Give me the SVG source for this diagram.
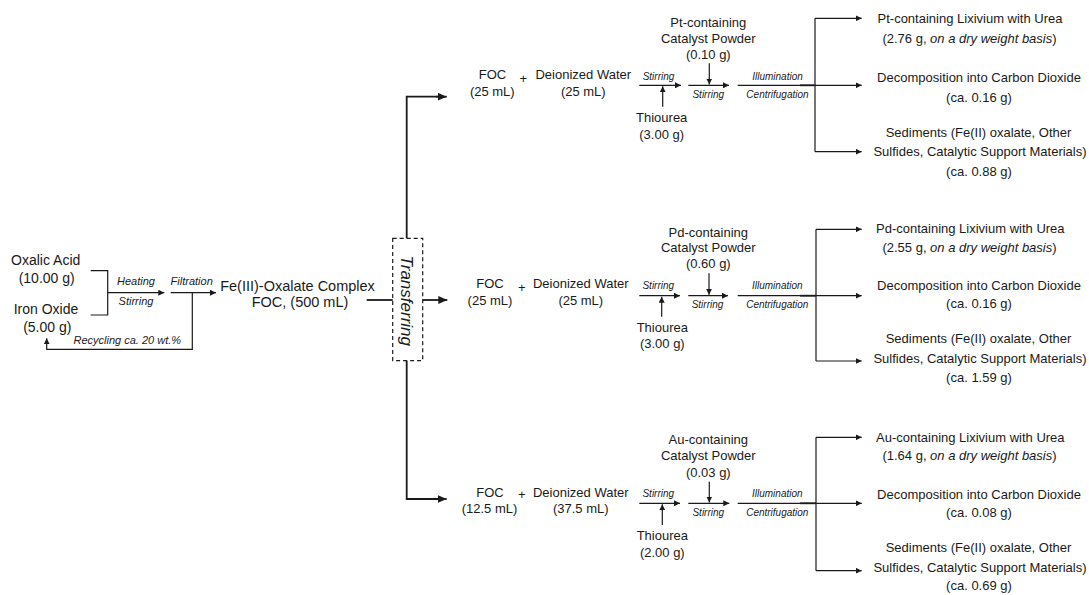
<svg xmlns="http://www.w3.org/2000/svg" width="1089" height="595" viewBox="0 0 1089 595">
<defs>
<marker id="ah" markerUnits="userSpaceOnUse" markerWidth="7" markerHeight="6" refX="6" refY="3" orient="auto">
<path d="M0,0 L6,3 L0,6 z" fill="#1a1a1a"/>
</marker>
<marker id="ahb" markerUnits="userSpaceOnUse" markerWidth="10" markerHeight="8" refX="9" refY="4" orient="auto">
<path d="M0,0 L9,4 L0,8 z" fill="#1a1a1a"/>
</marker>
<style>
text{font-family:"Liberation Sans",Arial,sans-serif;fill:#1a1a1a;text-anchor:middle}
.m{font-size:13px}
.l{font-size:14px}
.f{font-size:14.5px}
.s{font-size:10px;font-style:italic}
.sl{font-size:11px;font-style:italic}
.i{font-style:italic}
.tr{font-size:17px;font-style:italic}
.c{fill:none;stroke:#1a1a1a;stroke-width:1.2}
.a{fill:none;stroke:#1a1a1a;stroke-width:1.2;marker-end:url(#ah)}
.t{fill:none;stroke:#1a1a1a;stroke-width:1.8}
.ta{fill:none;stroke:#1a1a1a;stroke-width:1.8;marker-end:url(#ahb)}
.box{fill:none;stroke:#1a1a1a;stroke-width:1.2;stroke-dasharray:4 3}
</style>
</defs>
<g id="connectors">
<path class="c" d="M90.7,270.7 H107.7 V315 H90.7"/>
<path class="a" d="M107.7,292.7 H164.3"/>
<path class="a" d="M170.7,292.7 H216"/>
<path class="a" d="M192.3,292.7 V349.3 H46.7 V338.3"/>
<path class="t" d="M366.7,300 H392.7"/>
<path class="t" d="M406.7,238.3 V96.7 H438"/><path class="ta" d="M436,96.7 H446.7"/>
<path class="t" d="M406.7,360.7 V499 H438"/><path class="ta" d="M436,499 H446.7"/>
<path class="ta" d="M422.7,300 H447.3"/>
<!-- top row -->
<path class="a" d="M639.3,85.3 H681"/>
<path class="a" d="M662.7,106.7 V86.3"/>
<path class="a" d="M688.3,85.3 H729"/>
<path class="a" d="M709.3,63.3 V84.5"/>
<path class="a" d="M737.7,85.3 H861.7"/>
<path class="t" d="M800,85.3 H815"/>
<path class="c" d="M815,18.3 V151.7"/>
<path class="a" d="M815,18.3 H861.7"/>
<path class="a" d="M815,151.7 H861.7"/>
<!-- middle row -->
<path class="a" d="M639.3,295.7 H680"/>
<path class="a" d="M661.7,316.7 V296.7"/>
<path class="a" d="M688.3,295.7 H728"/>
<path class="a" d="M709,273.3 V294.8"/>
<path class="a" d="M737.7,295.7 H861.7"/>
<path class="t" d="M800,295.7 H816"/>
<path class="c" d="M816,229.3 V361"/>
<path class="a" d="M816,229.3 H861.7"/>
<path class="a" d="M816,361 H861.7"/>
<!-- bottom row -->
<path class="a" d="M639.3,503.3 H680"/>
<path class="a" d="M662.3,525 V504.3"/>
<path class="a" d="M688.3,503.3 H729.3"/>
<path class="a" d="M709.3,481.7 V502.5"/>
<path class="a" d="M737.7,503.3 H861.7"/>
<path class="t" d="M800,503.3 H816"/>
<path class="c" d="M816,437.3 V570.7"/>
<path class="a" d="M816,437.3 H861.7"/>
<path class="a" d="M816,570.7 H861.7"/>
</g>
<g id="labels">
<text class="sl" x="136" y="285">Heating</text>
<text class="sl" x="136" y="305">Stirring</text>
<text class="sl" x="191.7" y="285">Filtration</text>
<text class="sl" x="127.3" y="344">Recycling ca. 20 wt.%</text>
<text class="s" x="658.5" y="80">Stirring</text>
<text class="s" x="708.3" y="98.3">Stirring</text>
<text class="s" x="777.5" y="80">Illumination</text>
<text class="s" x="777.5" y="98.3">Centrifugation</text>
<text class="s" x="658.3" y="289.3">Stirring</text>
<text class="s" x="707.5" y="307.7">Stirring</text>
<text class="s" x="777.3" y="289.3">Illumination</text>
<text class="s" x="777.3" y="307.7">Centrifugation</text>
<text class="s" x="658.3" y="497.3">Stirring</text>
<text class="s" x="708.3" y="516">Stirring</text>
<text class="s" x="777.3" y="497.3">Illumination</text>
<text class="s" x="777.3" y="516">Centrifugation</text>
</g>
<g id="oxalic-acid"><text class="l" x="45.7" y="265">Oxalic Acid</text><text class="l" x="46.7" y="282.7">(10.00 g)</text></g>
<g id="iron-oxide"><text class="l" x="46" y="314.3">Iron Oxide</text><text class="l" x="47.3" y="331.7">(5.00 g)</text></g>
<g id="foc-complex"><text class="f" x="297.5" y="290.7">Fe(III)-Oxalate Complex</text><text class="f" x="300" y="306.7">FOC, (500 mL)</text></g>
<g id="transferring"><rect class="box" x="392.7" y="238.3" width="30" height="122.4"/><text class="tr" transform="translate(400.7,300.8) rotate(90)">Transferring</text></g>
<!-- top row nodes -->
<g id="foc-1"><text class="m" x="492.5" y="79.3">FOC</text><text class="m" x="492.3" y="95.7">(25 mL)</text><text class="m" x="523.3" y="82.6">+</text></g>
<g id="water-1"><text class="m" x="583.3" y="79.3">Deionized Water</text><text class="m" x="583.3" y="95.7">(25 mL)</text></g>
<g id="thiourea-1"><text class="m" x="661.7" y="121.7">Thiourea</text><text class="m" x="661.7" y="139">(3.00 g)</text></g>
<g id="catalyst-pt"><text class="m" x="708.3" y="27.3">Pt-containing</text><text class="m" x="708.3" y="42.8">Catalyst Powder</text><text class="m" x="708.3" y="59">(0.10 g)</text></g>
<g id="lixivium-pt"><text class="m" x="970" y="22.7">Pt-containing Lixivium with Urea</text><text class="m" x="969.5" y="43">(2.76 g, <tspan class="i">on a dry weight basis</tspan>)</text></g>
<g id="co2-1"><text class="m" x="979" y="81.7">Decomposition into Carbon Dioxide</text><text class="m" x="979" y="101.7">(ca. 0.16 g)</text></g>
<g id="sediments-1"><text class="m" x="978.5" y="136.7">Sediments (Fe(II) oxalate, Other</text><text class="m" x="980" y="155.7">Sulfides, Catalytic Support Materials)</text><text class="m" x="979" y="176">(ca. 0.88 g)</text></g>
<!-- middle row nodes -->
<g id="foc-2"><text class="m" x="490" y="288.3">FOC</text><text class="m" x="490" y="305">(25 mL)</text><text class="m" x="521.7" y="291.6">+</text></g>
<g id="water-2"><text class="m" x="580.8" y="288.3">Deionized Water</text><text class="m" x="580.8" y="305">(25 mL)</text></g>
<g id="thiourea-2"><text class="m" x="662.3" y="331.5">Thiourea</text><text class="m" x="662.3" y="348">(3.00 g)</text></g>
<g id="catalyst-pd"><text class="m" x="708.3" y="236.7">Pd-containing</text><text class="m" x="708.3" y="252.3">Catalyst Powder</text><text class="m" x="708.3" y="268.3">(0.60 g)</text></g>
<g id="lixivium-pd"><text class="m" x="970.3" y="233.3">Pd-containing Lixivium with Urea</text><text class="m" x="969.5" y="251.7">(2.55 g, <tspan class="i">on a dry weight basis</tspan>)</text></g>
<g id="co2-2"><text class="m" x="979" y="290">Decomposition into Carbon Dioxide</text><text class="m" x="979" y="308.3">(ca. 0.16 g)</text></g>
<g id="sediments-2"><text class="m" x="978.5" y="343.3">Sediments (Fe(II) oxalate, Other</text><text class="m" x="980" y="363.3">Sulfides, Catalytic Support Materials)</text><text class="m" x="979" y="381.7">(ca. 1.59 g)</text></g>
<!-- bottom row nodes -->
<g id="foc-3"><text class="m" x="490" y="496.7">FOC</text><text class="m" x="489.5" y="513.3">(12.5 mL)</text><text class="m" x="521.7" y="499.3">+</text></g>
<g id="water-3"><text class="m" x="580.8" y="496.7">Deionized Water</text><text class="m" x="580.8" y="513.3">(37.5 mL)</text></g>
<g id="thiourea-3"><text class="m" x="662.3" y="540">Thiourea</text><text class="m" x="662.3" y="556.7">(2.00 g)</text></g>
<g id="catalyst-au"><text class="m" x="708.3" y="444.3">Au-containing</text><text class="m" x="708.3" y="460">Catalyst Powder</text><text class="m" x="708.3" y="476.7">(0.03 g)</text></g>
<g id="lixivium-au"><text class="m" x="970.3" y="441.7">Au-containing Lixivium with Urea</text><text class="m" x="969.5" y="460">(1.64 g, <tspan class="i">on a dry weight basis</tspan>)</text></g>
<g id="co2-3"><text class="m" x="979" y="499.3">Decomposition into Carbon Dioxide</text><text class="m" x="979" y="517.3">(ca. 0.08 g)</text></g>
<g id="sediments-3"><text class="m" x="978.5" y="551.7">Sediments (Fe(II) oxalate, Other</text><text class="m" x="980" y="571.7">Sulfides, Catalytic Support Materials)</text><text class="m" x="979" y="590">(ca. 0.69 g)</text></g>
</svg>
